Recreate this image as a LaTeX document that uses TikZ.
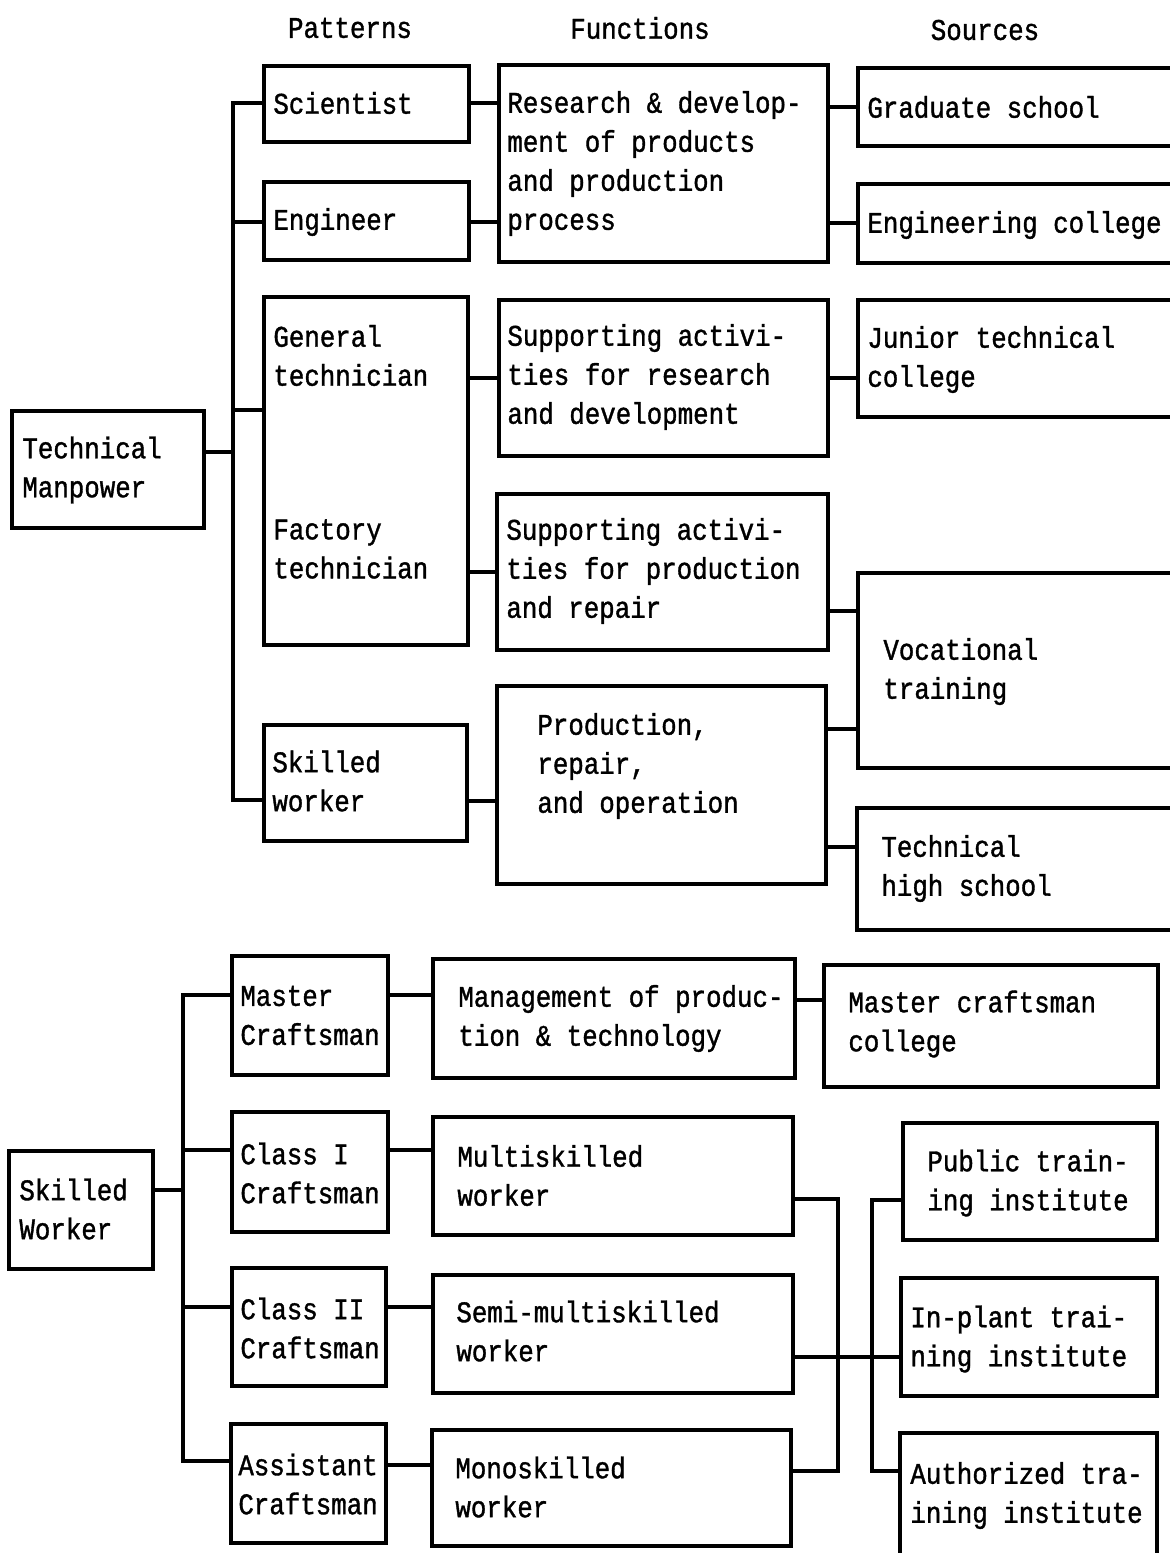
\documentclass[tikz,border=0pt]{standalone}
\usepackage{fontspec}
\setmainfont{Liberation Mono}[FakeStretch=0.86,FakeBold=1.2]
\usetikzlibrary{calc}
\newcommand\bx[5]{\node[box, minimum width={(#4-#2)*0.5pt}, minimum height={(#5-#3)*0.5pt}, anchor=north west] (#1) at (#2,#3) {};}
\begin{document}
\begin{tikzpicture}[x=0.5pt,y=-0.5pt,
  box/.style={draw, line width=1.6pt, rectangle, inner sep=0pt, outer sep=0pt},
  lbl/.style={inner sep=0pt, align=left, anchor=west, font=\fontsize{15}{19.5}\selectfont},
  head/.style={inner sep=0pt, anchor=center, font=\fontsize{15}{19.5}\selectfont},
  conn/.style={line width=1.6pt}]
\useasboundingbox (0,0) rectangle (1169,1553);

% ---------- top part: headers
\node[head] (hp) at (350,28) {Patterns};
\node[head] (hf) at (640,28) {Functions};
\node[head] (hs) at (985,30) {Sources};

% ---------- top part: boxes
\bx{tm}{12}{411}{204}{528}
\bx{sci}{264}{66}{469}{142}
\bx{eng}{264}{182}{469}{260}
\bx{gt}{264}{297}{468}{645}
\bx{sw}{264}{725}{467}{841}
\bx{rd}{499}{65}{828}{262}
\bx{srd}{499}{300}{828}{456}
\bx{spr}{497}{494}{828}{650}
\bx{prod}{497}{686}{826}{884}
\bx{grad}{858}{68}{1190}{146}
\bx{ec}{858}{184}{1190}{263}
\bx{jtc}{858}{300}{1190}{417}
\bx{voc}{858}{573}{1190}{768}
\bx{ths}{857}{808}{1190}{930}

% ---------- top part: texts
\node[lbl] (tmT) at (22,470) {Technical\\Manpower};
\node[lbl] (sciT) at (273,103) {Scientist};
\node[lbl] (engT) at (273,222) {Engineer};
\node[lbl] (gtT) at (273,355.5) {General\\technician};
\node[lbl] (ftT) at (273,549) {Factory\\technician};
\node[lbl] (swT) at (272,781) {Skilled\\worker};
\node[lbl] (rdT) at (507,163.5) {Research \& develop-\\ment of products\\and production\\process};
\node[lbl] (srdT) at (507,377) {Supporting activi-\\ties for research\\and development};
\node[lbl] (sprT) at (506,571) {Supporting activi-\\ties for production\\and repair};
\node[lbl] (prodT) at (537,766) {Production,\\repair,\\and operation};
\node[lbl] (gradT) at (867,107) {Graduate school};
\node[lbl] (ecT) at (867,225) {Engineering college};
\node[lbl] (jtcT) at (867,359.5) {Junior technical\\college};
\node[lbl] (vocT) at (883,671.5) {Vocational\\training};
\node[lbl] (thsT) at (881,868.5) {Technical\\high school};

% ---------- top part: connectors
\coordinate (tA) at (233,103);
\coordinate (tB) at (233,222);
\coordinate (tC) at (233,410);
\coordinate (tD) at (233,452);
\coordinate (tE) at (233,800);
\coordinate (pS) at (482,801);
\coordinate (pV1) at (843,611);
\coordinate (pV2) at (843,729);
\coordinate (pT) at (843,847);
\coordinate (pJ) at (843,378);
\coordinate (pG) at (843,107);
\coordinate (pE) at (843,223);
\draw[conn] (sci.west |- tA) -| (tE) -- (sw.west |- tE);
\draw[conn] (eng.west |- tB) -- (tB);
\draw[conn] (gt.west |- tC) -- (tC);
\draw[conn] (tm.east |- tD) -- (tD);
\draw[conn] (sci.east |- tA) -- (rd.west |- tA);
\draw[conn] (eng.east |- tB) -- (rd.west |- tB);
\draw[conn] (gt.east |- srd.west) -- (srd.west);
\draw[conn] (gt.east |- spr.west) -- (spr.west);
\draw[conn] (sw.east |- pS) -- (prod.west |- pS);
\draw[conn] (rd.east |- pG) -- (grad.west |- pG);
\draw[conn] (rd.east |- pE) -- (ec.west |- pE);
\draw[conn] (srd.east |- pJ) -- (jtc.west |- pJ);
\draw[conn] (spr.east |- pV1) -- (voc.west |- pV1);
\draw[conn] (prod.east |- pV2) -- (voc.west |- pV2);
\draw[conn] (prod.east |- pT) -- (ths.west |- pT);

% ---------- bottom part: boxes
\bx{skw}{9}{1151}{153}{1269}
\bx{mc}{232}{956}{388}{1075}
\bx{c1}{232}{1112}{388}{1232}
\bx{c2}{232}{1268}{386}{1386}
\bx{ac}{231}{1424}{386}{1543}
\bx{mg}{433}{959}{795}{1078}
\bx{ms}{433}{1117}{793}{1235}
\bx{sm}{433}{1275}{793}{1393}
\bx{mono}{432}{1430}{791}{1546}
\bx{mcc}{824}{965}{1158}{1087}
\bx{pub}{903}{1123}{1157}{1240}
\bx{ip}{901}{1278}{1157}{1396}
\bx{auth}{900}{1433}{1157}{1560}

% ---------- bottom part: texts
\node[lbl] (skwT) at (19,1209) {Skilled\\Worker};
\node[lbl] (mcT) at (240,1015.5) {Master\\Craftsman};
\node[lbl] (c1T) at (240,1173) {Class I\\Craftsman};
\node[lbl] (c2T) at (240,1328) {Class II\\Craftsman};
\node[lbl] (acT) at (238,1484) {Assistant\\Craftsman};
\node[lbl] (mgT) at (458,1018.5) {Management of produc-\\tion \& technology};
\node[lbl] (msT) at (457,1175.5) {Multiskilled\\worker};
\node[lbl] (smT) at (456,1331) {Semi-multiskilled\\worker};
\node[lbl] (monoT) at (455,1487) {Monoskilled\\worker};
\node[lbl] (mccT) at (848,1024) {Master craftsman\\college};
\node[lbl] (pubT) at (927,1183) {Public train-\\ing institute};
\node[lbl] (ipT) at (910,1339) {In-plant trai-\\ning institute};
\node[lbl] (authT) at (910,1495.5) {Authorized tra-\\ining institute};

% ---------- bottom part: connectors
\coordinate (bA) at (183,995);
\coordinate (bB) at (183,1150);
\coordinate (bC) at (183,1190);
\coordinate (bD) at (183,1307);
\coordinate (bE) at (183,1461);
\coordinate (bF) at (410,1465);
\coordinate (qM) at (810,1000);
\coordinate (qR1) at (838,1199);
\coordinate (qR2) at (838,1471);
\coordinate (qS) at (850,1357);
\coordinate (qL1) at (872,1200);
\coordinate (qL2) at (872,1471);
\draw[conn] (mc.west |- bA) -| (bE) -- (ac.west |- bE);
\draw[conn] (c1.west |- bB) -- (bB);
\draw[conn] (c2.west |- bD) -- (bD);
\draw[conn] (skw.east |- bC) -- (bC);
\draw[conn] (mc.east |- bA) -- (mg.west |- bA);
\draw[conn] (c1.east |- bB) -- (ms.west |- bB);
\draw[conn] (c2.east |- bD) -- (sm.west |- bD);
\draw[conn] (ac.east |- bF) -- (mono.west |- bF);
\draw[conn] (mg.east |- qM) -- (mcc.west |- qM);
\draw[conn] (ms.east |- qR1) -- (qR1) -- (qR2) -- (mono.east |- qR2);
\draw[conn] (sm.east |- qS) -- (ip.west |- qS);
\draw[conn] (pub.west |- qL1) -- (qL1) -- (qL2) -- (auth.west |- qL2);
\end{tikzpicture}
\end{document}
